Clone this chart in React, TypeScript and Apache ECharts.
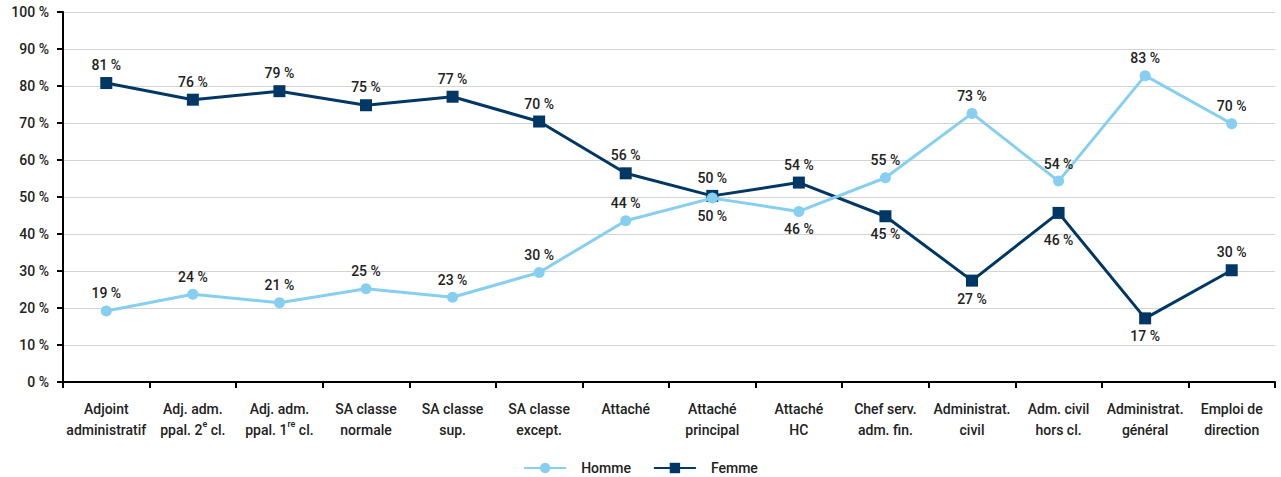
import React, { useEffect, useRef } from "react";
import * as echarts from "echarts";

const categories = [
  "Adjoint\nadministratif",
  "Adj. adm.\nppal. 2{sup|e} cl.",
  "Adj. adm.\nppal. 1{sup|re} cl.",
  "SA classe\nnormale",
  "SA classe\nsup.",
  "SA classe\nexcept.",
  "Attaché",
  "Attaché\nprincipal",
  "Attaché\nHC",
  "Chef serv.\nadm. fin.",
  "Administrat.\ncivil",
  "Adm. civil\nhors cl.",
  "Administrat.\ngénéral",
  "Emploi de\ndirection",
];

const homme = [19.2, 23.7, 21.4, 25.2, 22.9, 29.6, 43.6, 49.7, 46.1, 55.2, 72.6, 54.3, 82.8, 69.8];
const femme = [80.8, 76.3, 78.6, 74.8, 77.1, 70.4, 56.4, 50.3, 53.9, 44.8, 27.4, 45.7, 17.2, 30.2];

const hommeLabelPos = ["top", "top", "top", "top", "top", "top", "top", "bottom", "bottom", "top", "top", "top", "top", "top"];
const femmeLabelPos = ["top", "top", "top", "top", "top", "top", "top", "top", "top", "bottom", "bottom", "bottom", "bottom", "top"];
const femmeLabelDist = [5, 5, 5, 5, 5, 5, 5, 5, 5, 5, 5, 14, 5, 5];

const FONT = "'Liberation Sans Narrow', 'Roboto', 'Liberation Sans', sans-serif";
const HOMME_COLOR = "#87cff0";
const FEMME_COLOR = "#003764";

export default function App() {
  const ref = useRef<HTMLDivElement>(null);
  useEffect(() => {
    if (!ref.current) return;
    const chart = echarts.init(ref.current, undefined, { renderer: "svg" });
    const labelStyle = {
      show: true,
      formatter: (p: any) => Math.round(p.value) + " %",
      fontFamily: FONT,
      fontSize: 14,
      fontWeight: 500,
      color: "#222",
      distance: 5,
    };
    chart.setOption({
      animation: false,
      textStyle: { fontFamily: FONT },
      grid: { left: 63, right: 6, top: 12, bottom: 95 },
      legend: {
        top: 456,
        left: "center",
        itemWidth: 42,
        itemHeight: 13,
        itemGap: 22,
        textStyle: { fontFamily: FONT, fontSize: 14, fontWeight: 500, color: "#222", padding: [0, 0, 0, 10] },
        data: ["Homme", "Femme"],
      },
      xAxis: {
        type: "category",
        data: categories,
        boundaryGap: true,
        axisLine: { lineStyle: { color: "#000", width: 2 } },
        axisTick: { show: true, length: 6, lineStyle: { color: "#000", width: 2 } },
        axisLabel: {
          interval: 0,
          margin: 16,
          fontFamily: FONT,
          fontSize: 14,
          fontWeight: 500,
          color: "#222",
          lineHeight: 21,
          rich: {
            sup: {
              fontFamily: FONT,
              fontSize: 9,
              fontWeight: 500,
              color: "#222",
              verticalAlign: "top",
              lineHeight: 21,
              padding: [0, 0, 8, 0],
            },
          },
        },
      },
      yAxis: {
        type: "value",
        min: 0,
        max: 100,
        interval: 10,
        axisLine: { show: true, lineStyle: { color: "#000", width: 2 } },
        axisTick: { show: true, length: 6, lineStyle: { color: "#000", width: 2 } },
        splitLine: { lineStyle: { color: "#d4d4d4", width: 1 } },
        axisLabel: {
          formatter: "{value} %",
          fontFamily: FONT,
          fontSize: 14,
          fontWeight: 500,
          color: "#222",
          margin: 14,
        },
      },
      series: [
        {
          name: "Homme",
          type: "line",
          data: homme.map((v, i) => ({ value: v, label: { position: hommeLabelPos[i] } })),
          symbol: "circle",
          symbolSize: 11,
          lineStyle: { color: HOMME_COLOR, width: 3 },
          itemStyle: { color: HOMME_COLOR },
          label: labelStyle,
          z: 3,
        },
        {
          name: "Femme",
          type: "line",
          data: femme.map((v, i) => ({
            value: v,
            label: { position: femmeLabelPos[i], distance: femmeLabelDist[i] },
          })),
          symbol: "rect",
          symbolSize: 12,
          lineStyle: { color: FEMME_COLOR, width: 3 },
          itemStyle: { color: FEMME_COLOR },
          label: labelStyle,
          z: 2,
        },
      ],
    });
    return () => chart.dispose();
  }, []);
  return (
    <div
      ref={ref}
      style={{ position: "fixed", left: 0, top: 0, width: 1281, height: 477, background: "#fff" }}
    />
  );
}
